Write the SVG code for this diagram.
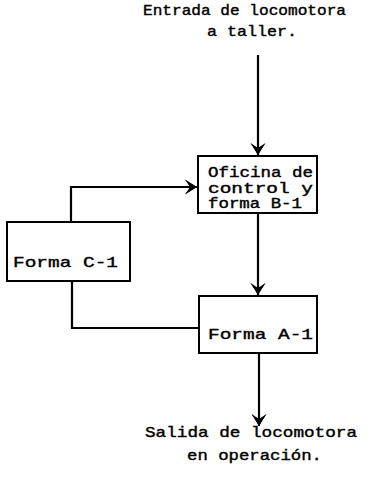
<svg xmlns="http://www.w3.org/2000/svg" width="370" height="477" viewBox="0 0 370 477">
<style>
.box{fill:#fff;stroke:#000;stroke-width:2}
.ln{fill:none;stroke:#000;stroke-width:2.2}
.t{font-family:"Liberation Mono","Courier New",monospace;font-size:15px;fill:#000;stroke:#000;stroke-width:0.4}
.s{font-size:14.5px}
</style>
<defs>
<marker id="ah" viewBox="0 0 12 16" refX="12" refY="8" markerWidth="12" markerHeight="16" markerUnits="userSpaceOnUse" orient="auto">
<path d="M0,0.5 Q4,4 5,8 Q4,12 0,15.5 Q6,11 12,8 Q6,5 0,0.5 Z" fill="#000"/>
<path d="M0,0.5 L12,8 L0,15.5 L5,8 Z" fill="#000"/>
</marker>
</defs>
<g id="labels-top">
<text class="t" x="143" y="15" textLength="203" lengthAdjust="spacingAndGlyphs">Entrada de locomotora</text>
<text class="t" x="207" y="36" textLength="90" lengthAdjust="spacingAndGlyphs">a taller.</text>
</g>
<g id="connectors">
<line class="ln" x1="258" y1="55" x2="258" y2="155" marker-end="url(#ah)"/>
<line class="ln" x1="258" y1="213" x2="258" y2="295" marker-end="url(#ah)"/>
<line class="ln" x1="259" y1="353" x2="259" y2="426" marker-end="url(#ah)"/>
<polyline class="ln" points="71,222 71,187 197,187" marker-end="url(#ah)"/>
<polyline class="ln" points="72,281 72,328 199,328"/>
</g>
<g id="nodeB">
<rect class="box" x="198" y="156" width="119" height="57"/>
<text class="t s" x="208" y="177" textLength="105" lengthAdjust="spacingAndGlyphs">Oficina de</text>
<text class="t s" x="208" y="193" textLength="105" lengthAdjust="spacingAndGlyphs">control  y</text>
<text class="t s" x="208" y="208" textLength="94" lengthAdjust="spacingAndGlyphs">forma B-1</text>
</g>
<g id="nodeC">
<rect class="box" x="7" y="222" width="123" height="59"/>
<text class="t" x="13" y="267" textLength="105" lengthAdjust="spacingAndGlyphs">Forma  C-1</text>
</g>
<g id="nodeA">
<rect class="box" x="199" y="296" width="118" height="57"/>
<text class="t" x="208" y="339" textLength="105" lengthAdjust="spacingAndGlyphs">Forma  A-1</text>
</g>
<g id="labels-bottom">
<text class="t" x="145" y="437" textLength="212" lengthAdjust="spacingAndGlyphs">Salida de locomotora</text>
<text class="t" x="187" y="460" textLength="135" lengthAdjust="spacingAndGlyphs">en operación.</text>
</g>
</svg>
